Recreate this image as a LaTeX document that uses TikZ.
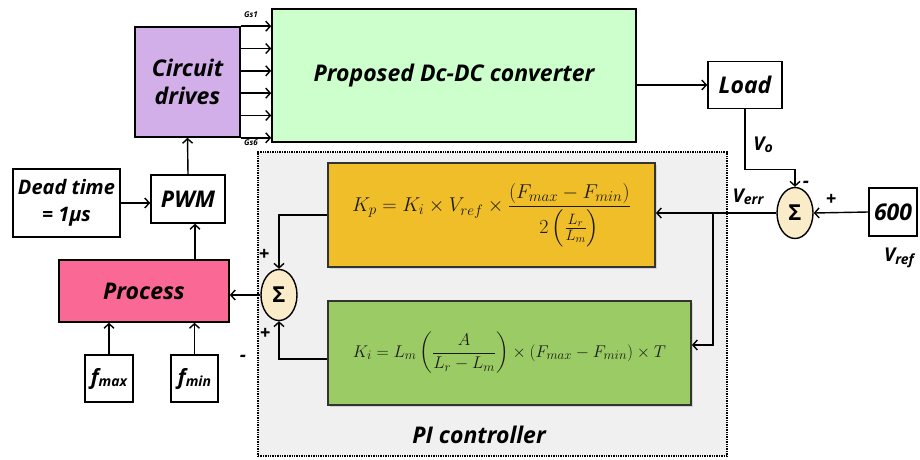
\RequirePackage{fix-cm}
\documentclass[tikz,border=0pt]{standalone}
\usepackage[no-math]{fontspec}
\setmainfont{Open Sans}
\usepackage{amsmath}
\usetikzlibrary{shapes.geometric,calc,arrows.meta,shadows}
\definecolor{drvcol}{RGB}{210,175,232}
\definecolor{convcol}{RGB}{204,255,204}
\definecolor{kpcol}{RGB}{240,190,40}
\definecolor{kicol}{RGB}{155,203,100}
\definecolor{proccol}{RGB}{250,104,150}
\definecolor{sumcol}{RGB}{250,236,200}
\definecolor{picol}{RGB}{240,240,240}
\DeclareMathSizes{20}{20}{15}{11}
\DeclareMathSizes{17}{17}{13}{10}
\newcommand\sub[1]{\raisebox{-0.12em}{\fontsize{14}{15}\selectfont #1}}

\begin{document}
\begin{tikzpicture}[x=1pt,y=-1pt,line width=1.4pt,>={Straight Barb[length=4.5pt,width=10pt]}]
    \useasboundingbox (0,0) rectangle (920,460);
    \tikzstyle{blk}=[draw,line width=1.6pt,inner sep=2pt,align=center,
                     font=\fontsize{23}{28}\selectfont\bfseries\itshape]
    \tikzstyle{eq}=[blk,line width=1.8pt,draw=black!80,text=black!90,
                    drop shadow={opacity=0.25,shadow xshift=2pt,shadow yshift=-2pt}]
    \tikzstyle{sum}=[ellipse,draw,line width=1.4pt,fill=sumcol,inner sep=0pt,
                     minimum width=36pt,minimum height=51pt,font=\fontsize{22}{24}\selectfont\bfseries]
    \tikzstyle{lbl}=[inner sep=0pt,font=\fontsize{19}{20}\selectfont\bfseries\itshape]
    \tikzstyle{sgn}=[inner sep=0pt,font=\fontsize{19}{19}\selectfont\bfseries\itshape]
    % PI controller frame
    \node[draw,densely dotted,line width=1.4pt,fill=picol,minimum width=469pt,minimum height=304pt]
          at (492.5,304) (pi) {};
    \node[lbl,font=\fontsize{23}{26}\selectfont\bfseries\itshape] at (479,435) (pilbl) {PI controller};
    % blocs
    \node[blk,fill=drvcol,minimum width=105pt,minimum height=110pt] at (187.5,82) (drv) {Circuit\\drives};
    \node[blk,fill=convcol,minimum width=364pt,minimum height=133pt] at (454,75.5) (conv) {Proposed Dc-DC converter};
    \node[blk,fill=white,minimum width=74pt,minimum height=47pt] at (745,85) (load) {Load};
    \node[blk,fill=white,minimum width=48pt,minimum height=48pt,inner sep=0pt] at (893,212) (vref) {600};
    \node[blk,fill=white,minimum width=74pt,minimum height=48pt,inner sep=0pt] at (188,199) (pwm) {PWM};
    \node[blk,fill=white,minimum width=107pt,minimum height=68pt,inner sep=0pt,
          font=\fontsize{20}{27}\selectfont\bfseries\itshape] at (66.5,203) (dead) {Dead time\\= 1μs};
    \node[blk,fill=proccol,minimum width=170pt,minimum height=62pt] at (144,291) (proc) {Process};
    \node[blk,fill=white,minimum width=48pt,minimum height=47pt,inner sep=0pt,font=\fontsize{21}{24}\selectfont\bfseries\itshape]
          at (109,378.5) (fmax) {f\sub{max}};
    \node[blk,fill=white,minimum width=47pt,minimum height=47pt,inner sep=0pt,font=\fontsize{21}{24}\selectfont\bfseries\itshape]
          at (194.5,378.5) (fmin) {f\sub{min}};
    \node[eq,fill=kpcol,minimum width=327pt,minimum height=104pt,font=\fontsize{20}{22}\selectfont] at (491.5,215) (kp)
          {$K_p = K_i \times V_{ref} \times \dfrac{(F_{max}-F_{min})}{2\left(\frac{L_r}{L_m}\right)}$};
    \node[eq,fill=kicol,minimum width=363pt,minimum height=104pt,font=\fontsize{17}{19}\selectfont] at (509.5,353) (ki)
          {$K_i = L_m\left(\dfrac{A}{L_r-L_m}\right)\times(F_{max}-F_{min})\times T$};
    \node[sum] at (795,213) (s1) {Σ};
    \node[sum] at (279,295) (s2) {Σ};
    % gate signals
    \foreach \i in {0,...,5}
      \draw[->] ($(drv.north east)!\i/5!(drv.south east)$) coordinate (g\i) -- (g\i -| conv.west);
    \node[inner sep=0pt,font=\fontsize{8}{9}\selectfont\bfseries\itshape] at (251,15) (gs1) {Gs1};
    \node[inner sep=0pt,font=\fontsize{8}{9}\selectfont\bfseries\itshape] at (251,143) (gs6) {Gs6};
    % liens
    \draw[->] (load.west -| conv.east) -- (load.west);
    \draw[->] (load.south) -- ++(0,60) -| (s1.north);
    \draw[->] (vref.west) -- (s1.east);
    \draw[->] (s1.west) -- (kp.east |- s1.west);
    \coordinate (br) at (713,213);
    \draw[->] (br) |- ([yshift=8pt]ki.east);
    \draw[->] (kp.west) -| (s2.north);
    \draw[->] ([yshift=-6pt]ki.west) -| (s2.south);
    \draw[->] (s2.west) -- (proc.east |- s2.west);
    \draw[->] ([xshift=7pt]pwm.south |- proc.north) -- ([xshift=7pt]pwm.south);
    \draw[->] (pwm.north) -- (drv.south);
    \draw[->] (dead.east) -- (dead.east -| pwm.west);
    \draw[->] (fmax.north) -- (fmax.north |- proc.south);
    \draw[->] (fmin.north) -- (fmin.north |- proc.south);
    % textes
    \node[lbl] at (763,145) (vo) {V\sub{o}};
    \node[lbl] at (748,197) (verr) {V\sub{err}};
    \node[lbl] at (899,258) (vr) {V\sub{ref}};
    \node[sgn] at (806,184) (m1) {-};
    \node[sgn] at (831,200) (p1) {+};
    \node[sgn] at (264,255) (p2) {+};
    \node[sgn] at (265,334) (p3) {+};
    \node[sgn] at (243,358) (m2) {-};
\end{tikzpicture}
\end{document}
